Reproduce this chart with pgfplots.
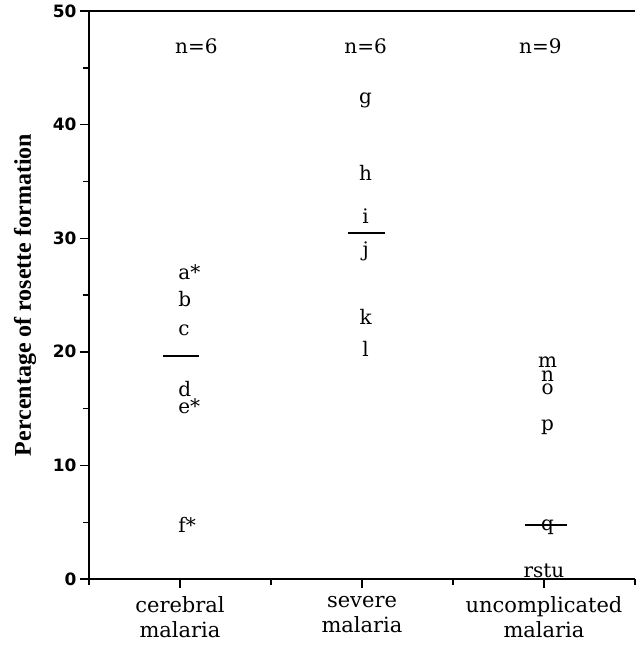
\documentclass[border=0pt]{standalone}
\usepackage{fontspec}
\setmainfont{DejaVu Serif}
\newfontfamily\tickfont{DejaVu Sans}
\newfontfamily\labfont{Liberation Serif}
\usepackage{pgfplots}
\pgfplotsset{compat=1.18}
\usepackage{pgfplotstable}

% letters: x position, value, label
\pgfplotstableread{
x y lab
0.99 26.4 a*
0.99 24.0 b
0.99 21.4 c
0.99 16.1 d
0.99 14.6 e*
0.99 4.05 f*
}\cerebral
\pgfplotstableread{
x y lab
2.02 41.9 g
2.02 35.1 h
2.02 31.3 i
2.02 28.4 j
2.02 22.4 k
2.02 19.6 l
}\severe
\pgfplotstableread{
x y lab
3.02 18.6 m
3.02 17.4 n
3.02 16.2 o
3.02 13.1 p
3.02 4.3 q
3.00 0.1 rstu
}\uncomplicated
\pgfplotstableread{
x y lab
1.09 46.3 n=6
2.02 46.3 n=6
2.98 46.3 n=9
}\counts

\begin{document}
\begin{tikzpicture}
\useasboundingbox (-89pt,-72pt) rectangle (550pt,579pt);
\begin{axis}[
    scale only axis,
    width=546pt, height=568pt,
    xmin=0.5, xmax=3.5,
    ymin=0, ymax=50,
    axis x line=box, axis y line=left,
    axis line style={-, line width=2.2pt},
    tick pos=left,
    tick align=outside,
    major tick length=9pt, minor tick length=6pt,
    every tick/.style={black, line width=1.4pt},
    xtick={1,2,3},
    minor xtick={0.5,1.5,2.5,3.5},
    xticklabels={cerebral\\malaria, severe\\malaria, uncomplicated\\malaria},
    xticklabel style={align=center, yshift=-5pt, font=\fontsize{21}{25}\selectfont},
    ytick={0,10,20,30,40,50},
    minor ytick={5,15,25,35,45},
    yticklabel style={font=\tickfont\bfseries\fontsize{17}{20}\selectfont},
    /pgf/number format/assume math mode=true,
    ylabel={Percentage of rosette formation},
    ylabel style={at={(axis description cs:-0.117,0.5)}, anchor=center, rotate=0,
        font=\labfont\bfseries\fontsize{24}{28}\selectfont},
    clip=false,
    nodes near coords={\pgfplotspointmeta},
    point meta=explicit symbolic,
    every node near coord/.style={font=\fontsize{20}{24}\selectfont, inner sep=0pt, anchor=base},
]
\addplot[only marks, mark=none, nodes near coords style={anchor=base west}] table[x=x, y=y, meta=lab] {\cerebral};
\addplot[only marks, mark=none] table[x=x, y=y, meta=lab] {\severe};
\addplot[only marks, mark=none] table[x=x, y=y, meta=lab] {\uncomplicated};
\addplot[only marks, mark=none] table[x=x, y=y, meta=lab] {\counts};
% medians
\addplot[black, line width=2pt, nodes near coords={}] coordinates {(0.907,19.6) (1.104,19.6)};
\addplot[black, line width=2pt, nodes near coords={}] coordinates {(1.923,30.5) (2.126,30.5)};
\addplot[black, line width=2pt, nodes near coords={}] coordinates {(2.896,4.75) (3.126,4.75)};
\end{axis}
\end{tikzpicture}
\end{document}
